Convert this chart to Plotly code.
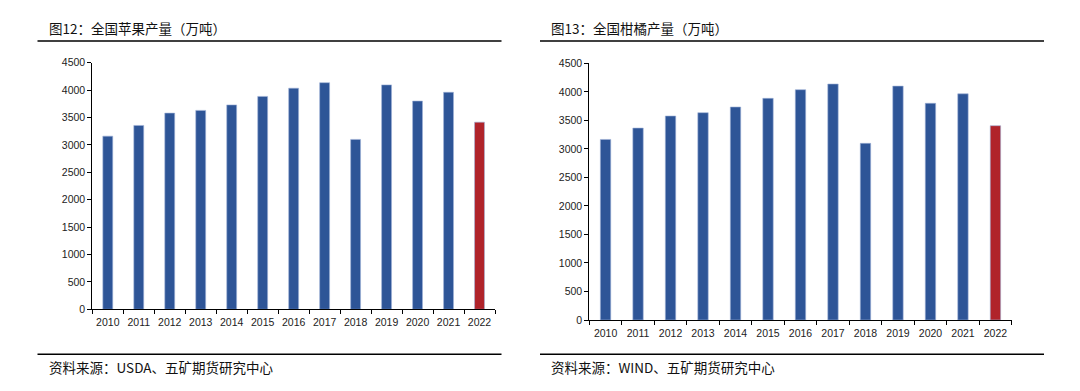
import plotly.graph_objects as go

years = ["2010", "2011", "2012", "2013", "2014", "2015", "2016",
         "2017", "2018", "2019", "2020", "2021", "2022"]
apple_output = [3160, 3355, 3580, 3630, 3730, 3885, 4035, 4135, 3100, 4095, 3800, 3960, 3415]
citrus_output = [3165, 3365, 3576, 3634, 3734, 3886, 4037, 4137, 3097, 4100, 3799, 3965, 3406]
y_ticks = [0, 500, 1000, 1500, 2000, 2500, 3000, 3500, 4000, 4500]

BLUE = "#2E5597"
RED = "#B0232A"
W, H = 1080, 391

def colors(n):
    return [BLUE] * (n - 1) + [RED]

fig = go.Figure()
fig.add_trace(go.Bar(x=years, y=apple_output, marker_color=colors(len(years)),
                     marker_line=dict(color="#9fb2d6", width=0.6),
                     width=0.32, xaxis="x", yaxis="y", showlegend=False))
fig.add_trace(go.Bar(x=years, y=citrus_output, marker_color=colors(len(years)),
                     marker_line=dict(color="#9fb2d6", width=0.6),
                     width=0.32, xaxis="x2", yaxis="y2", showlegend=False))

tickfont = dict(family="Liberation Sans, Arial", size=10.5, color="#222")
xcommon = dict(type="category", tickson="boundaries", ticks="outside", ticklen=4,
               tickcolor="black", showline=True, linecolor="black", linewidth=1,
               showgrid=False, tickfont=tickfont, range=[-0.5, 12.5], fixedrange=True,
               tickangle=0, automargin=False, ticklabelstandoff=3)
ycommon = dict(range=[0, 4500], tickvals=y_ticks, ticks="outside", ticklen=4,
               tickcolor="black", showline=True, linecolor="black", linewidth=1,
               showgrid=False, zeroline=False, tickfont=tickfont, fixedrange=True,
               automargin=False)

def px(x):
    return x / W

def py(y):
    return 1 - y / H

fig.update_layout(
    width=W, height=H,
    margin=dict(l=0, r=0, t=0, b=0, autoexpand=False),
    paper_bgcolor="white", plot_bgcolor="white",
    bargap=0.68,
    xaxis=dict(domain=[px(92.3), px(495)], anchor="y", **xcommon),
    yaxis=dict(domain=[py(309.3), py(62.7)], anchor="x", **ycommon),
    xaxis2=dict(domain=[px(589.3), px(1011.7)], anchor="y2", **xcommon),
    yaxis2=dict(domain=[py(320), py(63.3)], anchor="x2", **ycommon),
)

cjk = "Noto Sans CJK SC"
shapes = []
for x0, x1 in [(37.5, 501.5), (540, 1044)]:
    for yy in [41, 354.3]:
        shapes.append(dict(type="line", xref="paper", yref="paper",
                           x0=px(x0), x1=px(x1), y0=py(yy), y1=py(yy),
                           line=dict(color="black", width=1.5)))
fig.update_layout(shapes=shapes)

annos = [
    ("图12：全国苹果产量（万吨）", 46.5, 28),
    ("图13：全国柑橘产量（万吨）", 549, 28),
    ("资料来源：USDA、五矿期货研究中心", 46.5, 366.5),
    ("资料来源：WIND、五矿期货研究中心", 549, 366.5),
]
for text, x, y in annos:
    fig.add_annotation(text=text, xref="paper", yref="paper", x=px(x), y=py(y),
                       xanchor="left", yanchor="middle", showarrow=False,
                       font=dict(family=cjk, size=13.5, color="#111"))

fig.write_html("out.html", config={"displayModeBar": False},
               post_script="document.body.style.margin='0';document.body.style.overflow='hidden';")
